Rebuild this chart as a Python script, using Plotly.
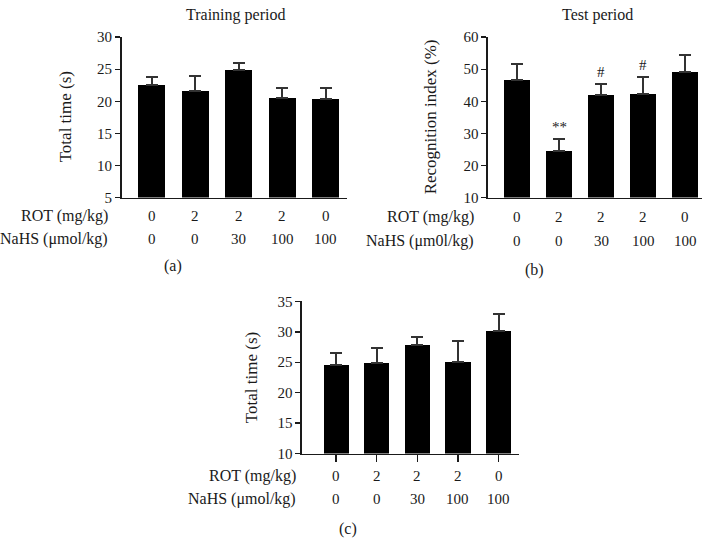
import plotly.graph_objects as go

# ---- data ----
rot_labels = ["0", "2", "2", "2", "0"]
nahs_labels = ["0", "0", "30", "100", "100"]

a_mean = [22.5, 21.6, 24.9, 20.5, 20.3]
a_err = [1.3, 2.3, 1.1, 1.6, 1.8]

b_mean = [46.5, 24.6, 42.0, 42.4, 49.1]
b_err = [5.2, 3.7, 3.5, 5.1, 5.3]
b_marks = ["", "**", "#", "#", ""]

c_mean = [24.6, 24.9, 27.8, 25.0, 30.2]
c_err = [1.9, 2.5, 1.4, 3.5, 2.8]

W, H = 707, 544
FONT = "Liberation Serif, Times New Roman, serif"
INK = "#1a1a1a"


def px(x):
    return x / W


def py(y):
    return 1 - y / H


panels = [
    dict(name="a", mean=a_mean, err=a_err, x0=121.5, x1=346.7, y0=30, y1=195.3,
         xr=[-0.70, 4.48], yr=[5, 30], dt=5, title="Training period", tx=235, ytitle="Total time (s)",
         ytx=65, rowx=110, rows=(214, 238.5), nahs="NaHS (μmol/kg)", lab="(a)", labx=173, laby=266,
         xticks=False),
    dict(name="b", mean=b_mean, err=b_err, x0=488, x1=702, y0=30, y1=195.3,
         xr=[-0.70, 4.40], yr=[10, 60], dt=10, title="Test period", tx=597, ytitle="Recognition index (%)",
         ytx=430, rowx=476, rows=(215, 240), nahs="NaHS (μm0l/kg)", lab="(b)", labx=534, laby=270,
         xticks=False),
    dict(name="c", mean=c_mean, err=c_err, x0=302, x1=519.3, y0=302.3, y1=459,
         xr=[-0.84, 4.51], yr=[10, 35], dt=5, title=None, tx=None, ytitle="Total time (s)",
         ytx=251.7, rowx=297.5, rows=(482, 505.5), nahs="NaHS (μmol/kg)", lab="(c)", labx=348, laby=537,
         xticks=True),
]

fig = go.Figure()
annotations = []
xs = list(range(len(rot_labels)))

for i, p in enumerate(panels, start=1):
    xa = "x" if i == 1 else f"x{i}"
    ya = "y" if i == 1 else f"y{i}"
    fig.add_trace(go.Bar(
        x=xs, y=p["mean"], xaxis=xa, yaxis=ya, width=0.62,
        marker=dict(color="black", line=dict(width=0)),
        error_y=dict(type="data", array=p["err"], arrayminus=[0] * len(xs), symmetric=False,
                     color="#333333", thickness=2, width=6),
        showlegend=False, hoverinfo="skip",
    ))
    xkey = "xaxis" if i == 1 else f"xaxis{i}"
    ykey = "yaxis" if i == 1 else f"yaxis{i}"
    fig.update_layout(**{
        xkey: dict(domain=[px(p["x0"]), px(p["x1"])], anchor=ya, range=p["xr"],
                   showline=True, linecolor=INK, linewidth=1.6, showgrid=False, zeroline=False,
                   showticklabels=False, tickvals=xs,
                   ticks="outside" if p["xticks"] else "", ticklen=7, tickwidth=1.4, tickcolor=INK),
        ykey: dict(domain=[py(p["y1"]), py(p["y0"])], anchor=xa, range=p["yr"], dtick=p["dt"],
                   tick0=p["yr"][0],
                   showline=True, linecolor=INK, linewidth=1.6, showgrid=False, zeroline=False,
                   ticks="outside", ticklen=5, tickwidth=1.4, tickcolor=INK,
                   tickfont=dict(family=FONT, size=15, color=INK)),
    })
    # titles
    if p["title"]:
        annotations.append(dict(text=p["title"], x=px(p["tx"]), y=py(7), xref="paper", yref="paper",
                                showarrow=False, xanchor="center", yanchor="middle",
                                font=dict(family=FONT, size=16, color=INK)))
    annotations.append(dict(text=p["ytitle"], x=px(p["ytx"]), y=py((p["y0"] + p["y1"]) / 2),
                            xref="paper", yref="paper", textangle=-90, showarrow=False,
                            xanchor="center", yanchor="middle",
                            font=dict(family=FONT, size=17, color=INK)))
    # category rows
    for header, labels, ry in (("ROT (mg/kg)", rot_labels, p["rows"][0]),
                               (p["nahs"], nahs_labels, p["rows"][1])):
        annotations.append(dict(text=header, x=px(p["rowx"]), y=py(ry), xref="paper", yref="paper",
                                showarrow=False, xanchor="right", yanchor="middle",
                                font=dict(family=FONT, size=16, color=INK)))
        for xi, lab in zip(xs, labels):
            annotations.append(dict(text=lab, x=xi, y=py(ry), xref=xa, yref="paper",
                                    showarrow=False, xanchor="center", yanchor="middle",
                                    font=dict(family=FONT, size=15, color=INK)))
    annotations.append(dict(text=p["lab"], x=px(p["labx"]), y=py(p["laby"]), xref="paper", yref="paper",
                            showarrow=False, xanchor="center", yanchor="middle",
                            font=dict(family=FONT, size=16, color=INK)))

# significance marks on panel b
for xi, m, v, e in zip(xs, b_marks, b_mean, b_err):
    if m:
        annotations.append(dict(text=m, x=xi, y=v + e, xref="x2", yref="y2", showarrow=False,
                                xanchor="center", yanchor="bottom", yshift=2,
                                font=dict(family=FONT, size=15, color=INK)))

fig.update_layout(width=W, height=H, margin=dict(l=0, r=0, t=0, b=0),
                  paper_bgcolor="white", plot_bgcolor="white", annotations=annotations,
                  bargap=0, hovermode=False)

fig.write_html("out.html", config={"displayModeBar": False, "staticPlot": True},
               post_script="document.body.style.margin='0';")
